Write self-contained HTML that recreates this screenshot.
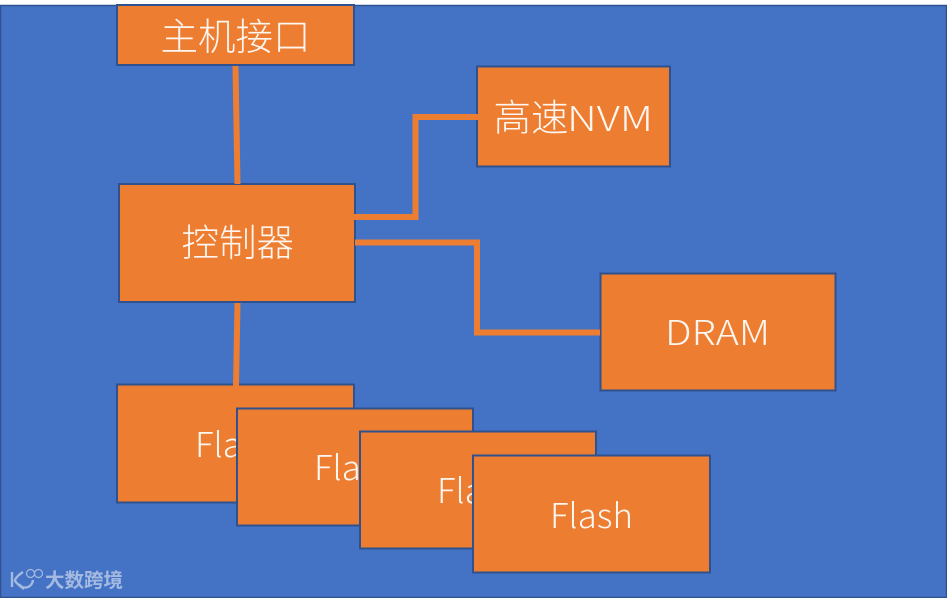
<!DOCTYPE html>
<html><head><meta charset="utf-8"><style>
html,body{margin:0;padding:0;background:#fff}
svg{display:block}
text{font-family:"Noto Sans CJK SC","Liberation Sans",sans-serif}
.t{fill:#fdf6f0;font-size:37.500px;font-weight:300}
.l{fill:#fdf6f0;font-size:34px;font-weight:300}
.b{fill:#ed7d31;stroke:#2f528f;stroke-width:2}
.c{fill:none;stroke:#ed7d31;stroke-width:6}
</style></head><body>
<svg width="947" height="598" viewBox="0 0 947 598" xmlns="http://www.w3.org/2000/svg">
<rect x="0" y="0" width="947" height="598" fill="#fff"/>
<rect x="0.5" y="5.5" width="946" height="592" fill="#4472c4" stroke="#2f528f" stroke-width="1.5"/>
<rect class="b" x="117" y="5" width="237" height="60"/>
<text class="t" x="160.500" y="50">主机接口</text>
<rect class="b" x="119" y="184" width="236" height="118"/>
<text class="t" x="181.500" y="256">控制器</text>
<rect class="b" x="477" y="66.500" width="193" height="100"/>
<text class="t" x="493.500" y="131">高速</text>
<text class="l" x="567" y="131" textLength="86" lengthAdjust="spacingAndGlyphs">NVM</text>
<rect class="b" x="600.500" y="273.500" width="235" height="117"/>
<text class="l" x="665" y="345" textLength="105" lengthAdjust="spacingAndGlyphs">DRAM</text>
<rect class="b" x="117" y="384.500" width="237" height="118"/>
<text class="l" x="195" y="457" textLength="83" lengthAdjust="spacingAndGlyphs">Flash</text>
<path class="c" d="M235.500 66L237.500 184"/>
<path class="c" d="M237.500 303L236 386"/>
<path class="c" d="M353 217H415.500V117H478"/>
<path class="c" d="M355 242.500H477V332.500H600"/>
<rect class="b" x="237" y="408.500" width="236" height="117"/>
<text class="l" x="314" y="480" textLength="83" lengthAdjust="spacingAndGlyphs">Flash</text>
<rect class="b" x="360" y="431.500" width="236" height="117"/>
<text class="l" x="437" y="503" textLength="83" lengthAdjust="spacingAndGlyphs">Flash</text>
<rect class="b" x="473" y="455.500" width="237" height="117"/>
<text class="l" x="550" y="528" textLength="83" lengthAdjust="spacingAndGlyphs">Flash</text>
<g opacity="0.62">
<path d="M12 572V587M23 572C17 576 15 579 15 581C17 584 20 586 24 589M19 584C23 590 32 588 33 580" fill="none" stroke="#dfe6f2" stroke-width="2.400"/>
<circle cx="30.500" cy="573.500" r="4" fill="none" stroke="#dfe6f2" stroke-width="1.200"/>
<circle cx="38.500" cy="573.500" r="4" fill="none" stroke="#dfe6f2" stroke-width="1.200"/>
<text x="45" y="587" fill="#dfe6f2" font-size="19.500" font-weight="700">大数跨境</text>
</g>
</svg>
</body></html>
